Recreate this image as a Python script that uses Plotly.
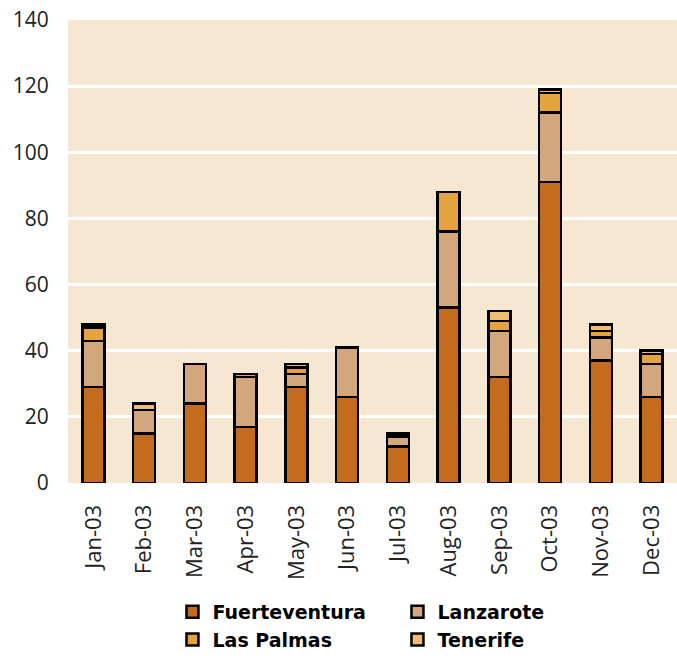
import plotly.graph_objects as go

months = ["Jan-03", "Feb-03", "Mar-03", "Apr-03", "May-03", "Jun-03",
          "Jul-03", "Aug-03", "Sep-03", "Oct-03", "Nov-03", "Dec-03"]
fuerteventura = [29, 15, 24, 17, 29, 26, 11, 53, 32, 91, 37, 26]
lanzarote = [14, 7, 12, 15, 4, 15, 3, 23, 14, 21, 7, 10]
las_palmas = [4, 0, 0, 1, 2, 0, 1, 12, 3, 6, 2, 3]
tenerife = [1, 2, 0, 0, 1, 0, 0, 0, 3, 1, 2, 1]

series = [
    ("Fuerteventura", fuerteventura, "#C46C1E"),
    ("Lanzarote", lanzarote, "#D2A77E"),
    ("Las Palmas", las_palmas, "#E4A33E"),
    ("Tenerife", tenerife, "#F0BC74"),
]

fig = go.Figure()
for name, vals, color in series:
    fig.add_trace(
        go.Bar(
            x=months,
            y=vals,
            name=name,
            marker=dict(color=color, line=dict(color="black", width=2.5)),
            width=0.43,
        )
    )

fig.update_layout(
    barmode="stack",
    width=677,
    height=659,
    margin=dict(l=68, r=0, t=20, b=176),
    paper_bgcolor="white",
    plot_bgcolor="#F6E7D2",
    font=dict(family="Open Sans", size=17, color="#222"),
    showlegend=True,
    legend=dict(
        orientation="h",
        traceorder="normal",
        x=0.541,
        xanchor="center",
        y=-0.38,
        yanchor="bottom",
        entrywidth=180,
        font=dict(family="DejaVu Sans", size=19, color="black", weight="bold"),
        tracegroupgap=0,
        itemwidth=30,
    ),
)
fig.update_yaxes(
    range=[0, 140],
    dtick=20,
    showgrid=True,
    gridcolor="white",
    gridwidth=2.5,
    zeroline=False,
    tickfont=dict(size=21),
    ticks="outside",
    ticklen=14,
    tickcolor="rgba(0,0,0,0)",
    automargin=False,
)
fig.update_xaxes(
    tickangle=-90,
    showgrid=False,
    tickfont=dict(size=22),
    ticks="outside",
    ticklen=12,
    tickcolor="rgba(0,0,0,0)",
    automargin=False,
)

# drop the default 8px body margin so the figure sits at the page corner
fig.write_html(
    "out.html",
    config={"displayModeBar": False},
    post_script="document.body.style.margin='0';document.body.style.overflow='hidden';",
)
